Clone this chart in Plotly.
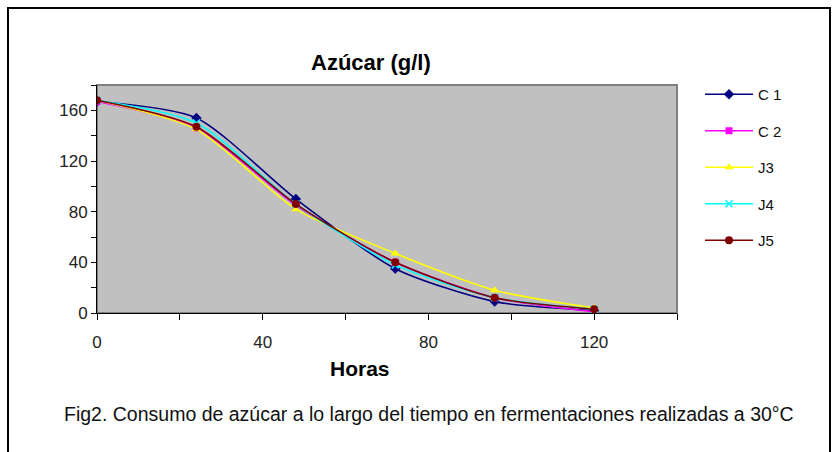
import plotly.graph_objects as go

# Sugar concentration (g/l) sampled every 24 h
horas = [0, 24, 48, 72, 96, 120]
c1 = [167, 154, 90, 35, 9, 2]
c2 = [167, 146, 85, 40, 12, 1]
j3 = [168, 145, 82, 47, 18, 4]
j4 = [168, 150, 86, 38, 12, 3]
j5 = [168, 147, 86, 40, 12, 3]

series = [
    ("C 1", c1, "#000080", "diamond", 8),
    ("C 2", c2, "#FF00FF", "square", 7),
    ("J3", j3, "#FFFF00", "triangle-up", 8),
    ("J4", j4, "#00FFFF", "x-thin-open", 7),
    ("J5", j5, "#800000", "circle", 8),
]

W, H = 835, 452
L, R, T, B = 97, 677, 85, 313

fig = go.Figure()
for name, vals, color, sym, size in series:
    fig.add_trace(go.Scatter(
        x=horas, y=vals, name=name, legendgroup=name,
        mode="lines+markers",
        line=dict(color=color, width=1.6, shape="spline", smoothing=0.7),
        marker=dict(symbol=sym, size=size, color=color,
                    line=dict(color=color, width=1.5 if sym.startswith("x") else 0)),
    ))

def px(x):
    return (x - L) / (R - L)

def py(y):
    return (B - y) / (B - T)

font = "Arial, Liberation Sans, sans-serif"

fig.update_layout(
    width=W, height=H,
    margin=dict(l=L, r=W - R, t=T, b=H - B),
    paper_bgcolor="white",
    plot_bgcolor="#C0C0C0",
    font=dict(family=font, size=13, color="#222"),
    showlegend=True,
    legend=dict(x=px(700), y=py(78), xanchor="left", yanchor="top",
                font=dict(size=15, color="#111"),
                itemwidth=48,
                tracegroupgap=14, bgcolor="rgba(0,0,0,0)"),
    xaxis=dict(range=[0, 140], tickvals=[0, 40, 80, 120],
               ticks="outside", ticklen=6, tickcolor="black",
               minor=dict(dtick=20, ticks="outside", ticklen=6, tickcolor="black"),
               showline=True, linecolor="black", linewidth=1,
               showgrid=False, zeroline=False,
               ticklabelstandoff=8,
               tickfont=dict(size=17)),
    yaxis=dict(range=[0, 180], tickvals=[0, 40, 80, 120, 160],
               ticks="outside", ticklen=5, tickcolor="black",
               minor=dict(dtick=20, ticks="outside", ticklen=5, tickcolor="black"),
               showline=True, linecolor="black", linewidth=1,
               showgrid=False, zeroline=False,
               tickfont=dict(size=17)),
    shapes=[
        # plot area frame
        dict(type="rect", xref="paper", yref="paper", x0=0, x1=1, y0=0, y1=1,
             line=dict(color="#808080", width=2), layer="below"),
        # outer chart frame
        dict(type="rect", xref="paper", yref="paper",
             x0=px(8), x1=px(830), y0=py(470), y1=py(8),
             line=dict(color="black", width=2)),
    ],
    annotations=[
        dict(text="<b>Azúcar (g/l)</b>", xref="paper", yref="paper",
             x=px(371), y=py(62), xanchor="center", yanchor="middle",
             showarrow=False, font=dict(size=22, color="black")),
        dict(text="<b>Horas</b>", xref="paper", yref="paper",
             x=px(360), y=py(368), xanchor="center", yanchor="middle",
             showarrow=False, font=dict(size=21, color="black")),
        dict(text="Fig2. Consumo de azúcar a lo largo del tiempo en fermentaciones realizadas a 30°C",
             xref="paper", yref="paper", x=px(62), y=py(414),
             xanchor="left", yanchor="middle", showarrow=False,
             font=dict(size=19.5, color="#111")),
    ],
)

fig.write_html("out.html")
